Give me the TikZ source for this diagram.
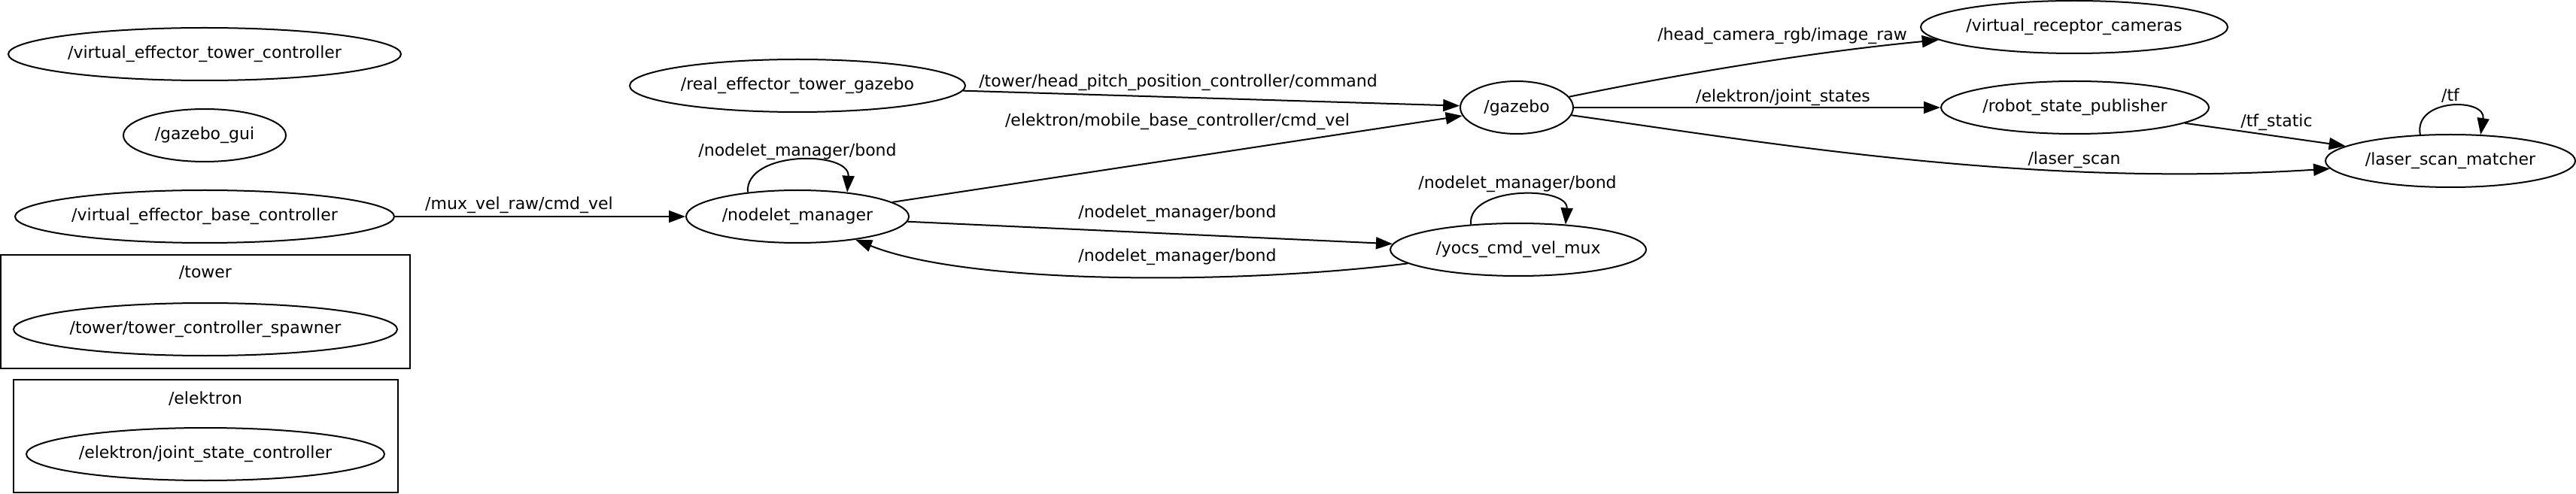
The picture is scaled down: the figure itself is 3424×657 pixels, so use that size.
\documentclass[tikz,border=0pt]{standalone}
\usepackage{fontspec}
\setmainfont{DejaVu Sans}
\usetikzlibrary{shapes.geometric,arrows.meta}
\begin{document}
\begin{tikzpicture}[x=0.5pt,y=0.5pt,
  rosnode/.style={ellipse,draw,line width=1pt,inner sep=0pt,minimum height=35pt,font=\fontsize{11}{13}\selectfont},
  lbl/.style={inner sep=0pt,font=\fontsize{11}{13}\selectfont},
  edge/.style={line width=1pt,-{Triangle[length=11pt,width=8pt]}},
  grp/.style={draw,line width=1pt,inner sep=0pt}]
\useasboundingbox (0,0) rectangle (3424,-657);
% groups
\node[grp,minimum width=272pt,minimum height=75.5pt] (towerbox) at (273,-414.5) {};
\node[lbl] (towerlbl) at (273,-363) {/tower};
\node[grp,minimum width=255.5pt,minimum height=75pt] (elekbox) at (273.5,-580) {};
\node[lbl] (eleklbl) at (273,-530) {/elektron};
% nodes
\node[rosnode,minimum width=261pt] (vetc) at (272,-72) {/virtual\_effector\_tower\_controller};
\node[rosnode,minimum width=108pt] (gui) at (272,-180) {/gazebo\_gui};
\node[rosnode,minimum width=252pt] (vebc) at (272,-288) {/virtual\_effector\_base\_controller};
\node[rosnode,minimum width=255pt] (spawner) at (273,-438) {/tower/tower\_controller\_spawner};
\node[rosnode,minimum width=238pt] (jsc) at (273,-604) {/elektron/joint\_state\_controller};
\node[rosnode,minimum width=223pt] (retg) at (1060,-114) {/real\_effector\_tower\_gazebo};
\node[rosnode,minimum width=75pt] (gazebo) at (2016,-143) {/gazebo};
\node[rosnode,minimum width=148pt] (nm) at (1060,-288) {/nodelet\_manager};
\node[rosnode,minimum width=170pt] (yocs) at (2018,-332) {/yocs\_cmd\_vel\_mux};
\node[rosnode,minimum width=204pt] (vrc) at (2757,-36) {/virtual\_receptor\_cameras};
\node[rosnode,minimum width=178pt] (rsp) at (2758,-143) {/robot\_state\_publisher};
\node[rosnode,minimum width=166pt] (lsm) at (3257,-214) {/laser\_scan\_matcher};
% edges
\draw[edge] (vebc) -- (nm);
\draw[edge] (retg) -- (gazebo);
\draw[edge] (nm) -- (gazebo);
\draw[edge] (nm) -- (yocs);
\draw[edge] (yocs) .. controls (1650,-378) and (1290,-380) .. (nm);
\draw[edge] (gazebo) .. controls (2250,-95) and (2420,-68) .. (vrc);
\draw[edge] (gazebo) -- (rsp);
\draw[edge] (gazebo) .. controls (2350,-190) and (2700,-250) .. (lsm);
\draw[edge] (rsp) -- (lsm);
\draw[edge] (nm.154) .. controls (990,-200) and (1130,-200) .. (nm.26);
\draw[edge] (yocs.152) .. controls (1950,-247) and (2085,-247) .. (yocs.28);
\draw[edge] (lsm.139) .. controls (3208,-130) and (3305,-130) .. (lsm.41);
% edge labels
\node[lbl] (l1) at (690,-273) {/mux\_vel\_raw/cmd\_vel};
\node[lbl] (l2) at (1566,-110) {/tower/head\_pitch\_position\_controller/command};
\node[lbl] (l3) at (1565,-162) {/elektron/mobile\_base\_controller/cmd\_vel};
\node[lbl] (l4) at (1565,-284) {/nodelet\_manager/bond};
\node[lbl] (l5) at (1565,-342) {/nodelet\_manager/bond};
\node[lbl] (l6) at (1060,-202) {/nodelet\_manager/bond};
\node[lbl] (l7) at (2017,-245) {/nodelet\_manager/bond};
\node[lbl] (l8) at (2369,-48) {/head\_camera\_rgb/image\_raw};
\node[lbl] (l9) at (2370,-130) {/elektron/joint\_states};
\node[lbl] (l10) at (2757,-213) {/laser\_scan};
\node[lbl] (l11) at (3026,-163) {/tf\_static};
\node[lbl] (l12) at (3257,-127) {/tf};
\end{tikzpicture}
\end{document}
